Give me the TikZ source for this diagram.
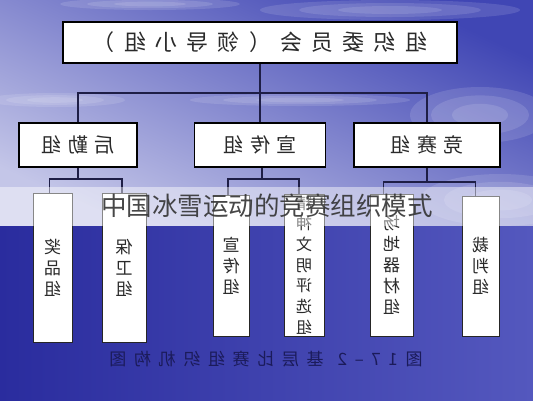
\documentclass[tikz,border=0pt]{standalone}
\usepackage{fontspec}
\usepackage{graphicx}
\usepackage{tikz}
\newfontfamily\cjk{Noto Sans CJK SC}
\definecolor{skydeep}{HTML}{4046B4}
\definecolor{skylight}{HTML}{C4C6E8}
\definecolor{seadeep}{HTML}{2A2C9E}
\definecolor{sealight}{HTML}{5458BE}
\definecolor{linkcol}{HTML}{1E1E46}
\definecolor{ink}{HTML}{2A2A2A}
\definecolor{capink}{HTML}{1B1B5A}
\newcommand{\mirror}[1]{\reflectbox{#1}}
\tikzset{
  boardbox/.style={
    draw=black,
    line width=1.1pt,
    fill=white,
    inner sep=0pt,
    text=ink,
    minimum width=394pt,
    minimum height=41pt,
    font={\cjk\addfontfeature{LetterSpace=42}\fontsize{22}{22}\selectfont}
  },
  groupbox/.style={
    draw=black,
    line width=1.1pt,
    fill=white,
    inner sep=0pt,
    text=ink,
    minimum height=44pt,
    font={\cjk\addfontfeature{LetterSpace=34}\fontsize{20}{20}\selectfont}
  },
  unitbox/.style={
    draw=black!85,
    line width=0.9pt,
    fill=white,
    inner sep=0pt,
    align=center,
    text=ink,
    font={\cjk\fontsize{17}{21}\selectfont}
  },
  link/.style={draw=linkcol, line width=1.3pt},
  cloud/.style={fill=white, opacity=0.12},
  band/.style={fill=white, opacity=0.45},
  watermark/.style={text=black!80, opacity=0.9, font={\cjk\fontsize{25.5}{25.5}\selectfont}},
  caption/.style={text=capink, font={\cjk\addfontfeature{LetterSpace=45}\fontsize{17}{17}\selectfont}}
}

\begin{document}
\begin{tikzpicture}[x=1pt,y=-1pt]
\useasboundingbox (0,0) rectangle (533,400);
% sky and sea
\shade[left color=skydeep, right color=skylight, shading angle=-25] (0,0) rectangle (533,226);
\foreach \s in {1,0.7,0.4} {
  \fill[cloud] (390,10) ellipse [x radius=130*\s, y radius=10*\s];
  \fill[cloud] (150,4) ellipse [x radius=90*\s, y radius=6*\s];
  \fill[cloud] (55,100) ellipse [x radius=70*\s, y radius=7*\s];
  \fill[cloud] (480,115) ellipse [x radius=70*\s, y radius=28*\s];
  \fill[cloud] (500,200) ellipse [x radius=80*\s, y radius=26*\s];
  \fill[cloud] (300,100) ellipse [x radius=110*\s, y radius=6*\s];
}
\shade[left color=seadeep, right color=sealight] (0,226) rectangle (533,400);

\node[boardbox] (board) at (260,42.5) {\mirror{组织委员会（领导小组）}};

\node[groupbox, minimum width=118pt] (logistics) at (78,145) {\mirror{后勤组}};
\node[groupbox, minimum width=131pt] (publicity) at (260,145) {\mirror{宣传组}};
\node[groupbox, minimum width=146pt] (contest) at (427,145) {\mirror{竞赛组}};

\node[unitbox, minimum width=39pt, minimum height=149pt] (prize) at (52.5,267.5) {\mirror{奖}\\\mirror{品}\\\mirror{组}};
\node[unitbox, minimum width=44pt, minimum height=149pt] (guard) at (124,267.5) {\mirror{保}\\\mirror{卫}\\\mirror{组}};
\node[unitbox, minimum width=36pt, minimum height=141pt] (promo) at (231,265.5) {\mirror{宣}\\\mirror{传}\\\mirror{组}};
\node[unitbox, minimum width=40pt, minimum height=142pt, font={\cjk\fontsize{16}{20.7}\selectfont}] (civility) at (304,265) {\mirror{精}\\\mirror{神}\\\mirror{文}\\\mirror{明}\\\mirror{评}\\\mirror{选}\\\mirror{组}};
\node[unitbox, minimum width=43pt, minimum height=142pt] (venue) at (391.5,265) {\mirror{场}\\\mirror{地}\\\mirror{器}\\\mirror{材}\\\mirror{组}};
\node[unitbox, minimum width=37pt, minimum height=140pt] (referee) at (480.5,266) {\mirror{裁}\\\mirror{判}\\\mirror{组}};

\coordinate (hub) at (260,93);
\coordinate (logbus) at (78,179);
\coordinate (pubbus) at (262,179);
\coordinate (conbus) at (427,182);

\draw[link] (board.south) -- (hub);
\draw[link] (hub) -| (logistics.north);
\draw[link] (hub) -- (publicity.north);
\draw[link] (hub) -| (contest.north);

\draw[link] (logistics.south) -- (logbus);
\draw[link] ([xshift=-3pt]prize.north) |- (logbus) -| ([xshift=-2pt]guard.north);
\draw[link] (publicity.south -| pubbus) -- (pubbus);
\draw[link] ([xshift=-3pt]promo.north) |- (pubbus) -| ([xshift=-5pt]civility.north);
\draw[link] (contest.south) -- (conbus);
\draw[link] ([xshift=-8pt]venue.north) |- (conbus) -| ([xshift=-5pt]referee.north);

% watermark band
\fill[band] (0,187) rectangle (533,226);
\node[watermark] (banner) at (267,206) {中国冰雪运动的竞赛组织模式};

\node[caption] (figcap) at (266,359) {\mirror{图17–2\hspace{14pt}基层比赛组织机构图}};
\end{tikzpicture}
\end{document}
